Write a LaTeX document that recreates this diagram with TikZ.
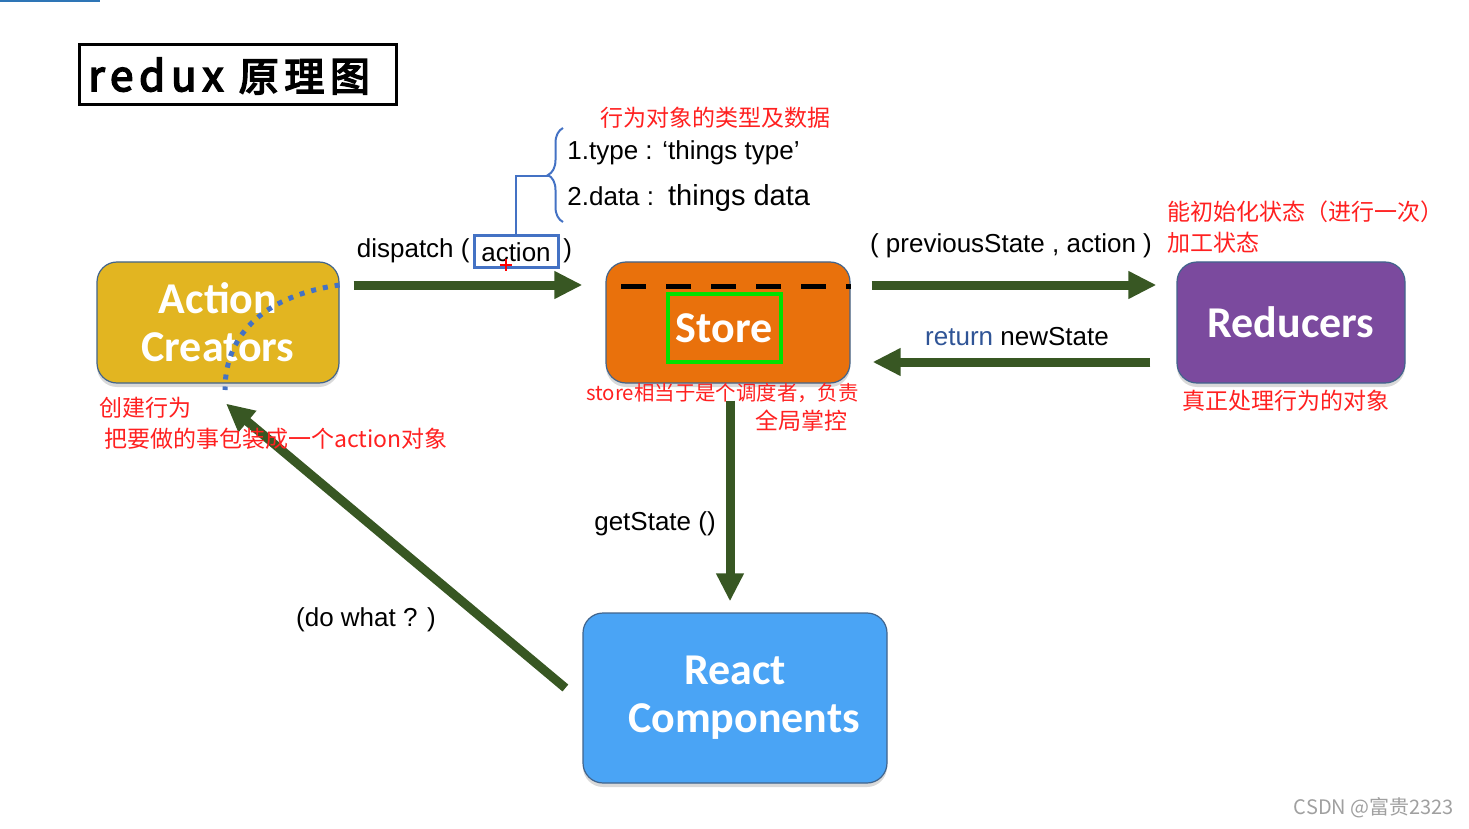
\documentclass[tikz,border=0pt]{standalone}
\usepackage{fontspec}
\setmainfont{Liberation Sans}
\newfontfamily\cjk{Noto Sans CJK SC}
\newfontfamily\boxfont{Carlito}
\newfontfamily\titlefont[LetterSpace=14,FakeBold=4]{Noto Sans CJK SC}
\usetikzlibrary{arrows.meta,shadows,decorations.pathreplacing}
\definecolor{flowgreen}{RGB}{56,87,35}
\definecolor{notered}{RGB}{255,32,32}
\definecolor{markblue}{RGB}{68,114,196}
\definecolor{retblue}{RGB}{47,84,150}
\definecolor{edgeblue}{RGB}{65,100,140}
\definecolor{acgold}{RGB}{226,181,33}
\definecolor{storeorange}{RGB}{233,113,12}
\definecolor{redpurple}{RGB}{123,74,158}
\definecolor{reactblue}{RGB}{74,164,245}
\definecolor{storegreen}{RGB}{0,225,0}
\definecolor{topbar}{RGB}{46,117,182}
\tikzset{
  part/.style={rounded corners=10pt, draw=edgeblue, line width=0.6pt, inner sep=0pt, text=white, align=center,
    font=\boxfont\bfseries\fontsize{22}{24}\selectfont,
    drop shadow={opacity=0.3, shadow xshift=0pt, shadow yshift=-2pt}},
  flow/.style={draw=flowgreen, line width=4.5pt, -{Triangle[length=14pt,width=13pt]}},
  note/.style={text=notered, font=\cjk\fontsize{11.5}{14}\selectfont, inner sep=0pt},
  msg/.style={font=\fontsize{13}{15}\selectfont, inner sep=0pt},
}
\begin{document}
\begin{tikzpicture}[x=0.5pt,y=-0.5pt]
	\useasboundingbox (0,0) rectangle (1469,829);
	\draw[topbar, line width=1pt] (0,1) -- (100,1);
	% title
	\node[draw, line width=1.5pt, minimum width=158.5pt, minimum height=30pt, inner sep=0pt] (title) at (237.5,75) {};
	\node[anchor=west, inner sep=0pt, font=\titlefont\fontsize{21}{22}\selectfont] (titletext) at (88,76) {redux {\fontsize{20}{22}\selectfont 原理图}};
	% main parts
	\node[part, fill=acgold, minimum width=121pt, minimum height=60.5pt] (ac) at (218,322.5) {Action\\Creators};
	\node[part, fill=storeorange, minimum width=122pt, minimum height=60.5pt] (store) at (728,322.5) {};
	\node[part, fill=redpurple, minimum width=114pt, minimum height=60.5pt] (red) at (1291,322.5) {Reducers};
	\node[part, fill=reactblue, minimum width=152pt, minimum height=85pt] (rc) at (735,698) {React\\\hspace*{9pt}Components};
	\draw[line width=2.5pt, dash pattern=on 12.5pt off 10pt] ([xshift=8pt,yshift=18.25pt]store.west) -- ([yshift=18.25pt]store.east);
	\node[draw=storegreen, line width=2pt, minimum width=56.5pt, minimum height=34pt, inner sep=0pt, text=white, font=\boxfont\bfseries\fontsize{22}{24}\selectfont] (storebox) at (724,328) {Store};
	% arrows
	\draw[flow] ([xshift=7pt,yshift=18.75pt]ac.east) -- ([xshift=-11.5pt,yshift=18.75pt]store.west);
	\draw[flow] ([xshift=10.5pt,yshift=18.75pt]store.east) -- ([xshift=-10pt,yshift=18.75pt]red.west);
	\draw[flow] ([xshift=-13pt,yshift=-19.75pt]red.west) -- ([xshift=11pt,yshift=-19.75pt]store.east);
	\draw[flow] ([xshift=1pt,yshift=-8.5pt]store.south) -- ([xshift=-2.5pt,yshift=5.5pt]rc.north);
	\draw[flow] ([xshift=-8.5pt,yshift=5pt]rc.west) -- ([xshift=4pt,yshift=-10pt]ac.south);
	% dotted line over action creators
	\coordinate (dotend) at (225,390);
	\draw[markblue, line width=2.5pt, dash pattern=on 2.5pt off 3.5pt] ([yshift=18.75pt]ac.east) .. controls (270,295) and (225,330) .. (dotend);
	% dispatch ( action )
	\node[msg, anchor=east] (dispatch) at (470,251) {dispatch (};
	\node[msg, draw=markblue, line width=1.5pt, minimum width=42pt, minimum height=16pt] (act) at (516,252) {action};
	\node[msg, anchor=west] (close) at (563,251) {)};
	\draw[red, line width=1pt] (500,265) -- (512,265) (506,259) -- (506,271);
	\coordinate (bracetip) at (549,176);
	\draw[markblue, line width=1pt] (act.north) |- (bracetip);
	\draw[markblue, line width=1pt, decorate, decoration={brace, amplitude=7.5pt}] (563,222) -- (563,128);
	\node[msg, anchor=west] (typeline) at (567,153) {1.type : ‘things type’};
	\node[msg, anchor=west] (dataline) at (567,198) {2.data :\hspace{7pt}{\fontsize{14.5}{16}\selectfont things data}};
	\node[note, anchor=west] (fieldnote) at (600,118) {行为对象的类型及数据};
	% labels on arrows
	\node[msg] (args) at (1011,246) {( previousState , action )};
	\node[msg] (ret) at (1017,337) {\textcolor{retblue}{return} newState};
	\node[msg] (get) at (655,524) {getState ()};
	\node[msg] (dowhat) at (366,620) {(do what ? )};
	% red notes
	\node[note, anchor=west] (rednote) at (1167,212) {能初始化状态（进行一次）};
	\node[note, anchor=west] (rednote2) at (1167,243) {加工状态};
	\node[note] (rednote3) at (1286,401) {真正处理行为的对象};
	\node[note, anchor=west, font=\cjk\fontsize{10.2}{13}\selectfont] (storenote) at (586,393) {store相当于是个调度者，负责};
	\node[note, anchor=east] (storenote2) at (848,421) {全局掌控};
	\node[note, anchor=west] (acnote) at (99,408) {创建行为};
	\node[note, anchor=west] (acnote2) at (104,439) {把要做的事包装成一个action对象};
	\node[text={rgb,255:red,160;green,160;blue,160}, font=\cjk\fontsize{10}{12}\selectfont, inner sep=0pt] (mark) at (1374,808) {CSDN @富贵2323};
\end{tikzpicture}
\end{document}
